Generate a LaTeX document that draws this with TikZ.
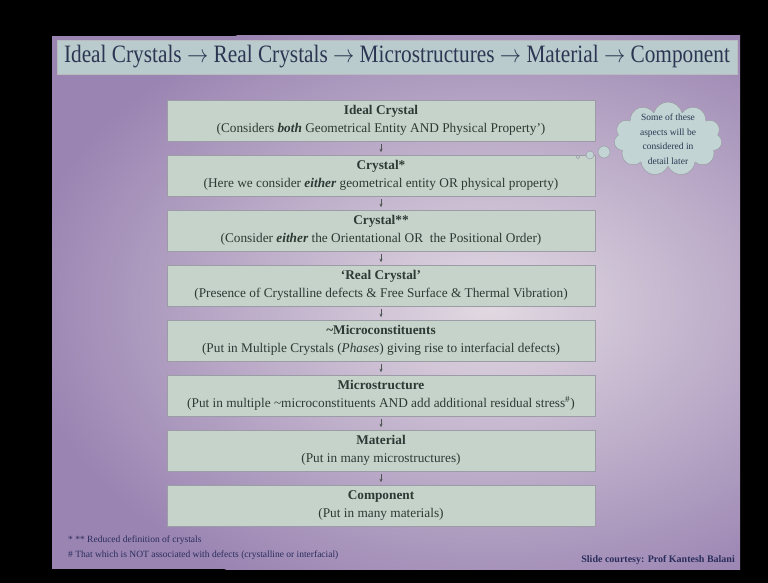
\documentclass[tikz,border=0pt]{standalone}
\usepackage{fontspec}
\setmainfont{Liberation Serif}
\usetikzlibrary{shapes.symbols,arrows.meta}
\definecolor{slidepurple}{HTML}{9A84B2}
\definecolor{slidelight}{HTML}{E2D9E2}
\definecolor{boxfill}{HTML}{C6D3CB}
\definecolor{boxline}{HTML}{9C9CA6}
\definecolor{boxtext}{HTML}{2E3834}
\definecolor{titlefill}{HTML}{BACBCD}
\definecolor{titletext}{HTML}{2C3652}
\definecolor{cloudfill}{HTML}{C2D4D4}
\definecolor{notetext}{HTML}{2A2D5C}
\begin{document}
\begin{tikzpicture}[x=1pt,y=-1pt,
  stagebox/.style={draw=boxline, line width=0.6pt, fill=boxfill, minimum width=428pt, minimum height=41pt, inner sep=0pt, align=center, text=boxtext, font=\fontsize{13.3}{18}\selectfont},
  stagearrow/.style={-{Stealth[length=3.5pt,width=3pt]}, draw=boxtext!85, line width=0.5pt, shorten <=3pt, shorten >=2.5pt},
  titlebox/.style={draw=boxline!70, line width=0.5pt, fill=titlefill, minimum width=680pt, minimum height=34pt, inner sep=0pt, text=titletext},
  thought/.style={draw=boxline, line width=0.5pt, fill=cloudfill},
  note/.style={text=notetext, font=\fontsize{9.5}{11}\selectfont, anchor=west, inner sep=0pt}
]
\useasboundingbox (0,0) rectangle (768,583);
\fill[black] (0,0) rectangle (768,583);
\begin{scope}
  \clip (52,36) rectangle (740,569);
  \fill[slidepurple] (52,36) rectangle (740,569);
  \shade[inner color=slidelight, outer color=slidepurple] (490,305) ellipse (470 and 320);
\end{scope}

\node[titlebox] (title) at (397,57) {\resizebox{666pt}{\height}{\fontsize{25}{27}\selectfont Ideal Crystals $\rightarrow$ Real Crystals $\rightarrow$ Microstructures $\rightarrow$ Material $\rightarrow$ Component}};

\node[stagebox] (b1) at (381,120.5) {\textbf{Ideal Crystal}\\(Considers \textbf{\textit{both}} Geometrical Entity AND Physical Property’)};
\node[stagebox] (b2) at (381,175.5) {\textbf{Crystal*}\\(Here we consider \textbf{\textit{either}} geometrical entity OR physical property)};
\node[stagebox] (b3) at (381,230.5) {\textbf{Crystal**}\\(Consider \textbf{\textit{either}} the Orientational OR\ \ the Positional Order)};
\node[stagebox] (b4) at (381,285.5) {\textbf{‘Real Crystal’}\\(Presence of Crystalline defects \& Free Surface \& Thermal Vibration)};
\node[stagebox] (b5) at (381,340.5) {\textbf{\textasciitilde Microconstituents}\\(Put in Multiple Crystals (\textit{Phases}) giving rise to interfacial defects)};
\node[stagebox] (b6) at (381,395.5) {\textbf{Microstructure}\\(Put in multiple \textasciitilde microconstituents AND add additional residual stress\textsuperscript{\#})};
\node[stagebox] (b7) at (381,450.5) {\textbf{Material}\\(Put in many microstructures)};
\node[stagebox] (b8) at (381,505.5) {\textbf{Component}\\(Put in many materials)};

\foreach \a/\b in {b1/b2,b2/b3,b3/b4,b4/b5,b5/b6,b6/b7,b7/b8}
  \draw[stagearrow] (\a) -- (\b);

\node[thought, cloud, cloud puffs=11, aspect=1.55, minimum width=108pt, minimum height=74pt, inner sep=0pt] (cloud) at (668,139) {};
\node[align=center, text=titletext, font=\fontsize{9.5}{14.5}\selectfont, inner sep=0pt] (cloudtext) at (cloud.center) {Some of these\\aspects will be\\considered in\\detail later};
\node[thought, circle, minimum size=12pt, inner sep=0pt] (bub1) at (604,152) {};
\node[thought, circle, minimum size=8pt, inner sep=0pt] (bub2) at (590,155) {};
\node[thought, circle, minimum size=3.5pt, inner sep=0pt] (bub3) at (578,157) {};

\node[note] (fn1) at (68,540) {* ** Reduced definition of crystals};
\node[note] (fn2) at (68,555) {\# That which is NOT associated with defects (crystalline or interfacial)};
\node[text=notetext, font=\bfseries\fontsize{10}{11}\selectfont, anchor=east, inner sep=0pt] (credit) at (735,560) {Slide courtesy: Prof Kantesh Balani};
\end{tikzpicture}
\end{document}
